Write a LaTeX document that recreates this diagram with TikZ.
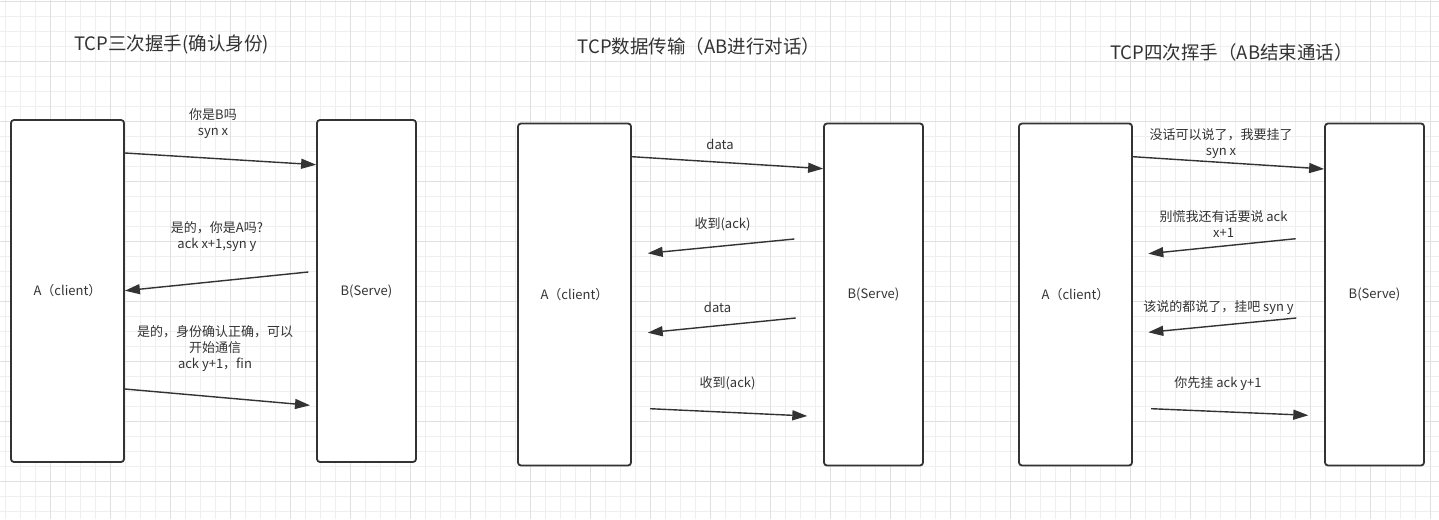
\documentclass[tikz,border=0pt]{standalone}
\usepackage{fontspec}
\setmainfont{Noto Sans CJK SC}
\usetikzlibrary{arrows.meta}
\definecolor{ink}{HTML}{333333}
\definecolor{gminor}{HTML}{EFEFEF}
\definecolor{gmajor}{HTML}{E0E0E0}
\begin{document}
\begin{tikzpicture}[x=1pt,y=-1pt,
  box/.style={draw=ink, line width=1.8pt, rounded corners=3pt, fill=white,
    minimum height=342pt, inner sep=0pt, text=ink, font=\fontsize{13}{15}\selectfont},
  msg/.style={draw=ink, line width=1.4pt, -{Triangle[length=15pt,width=10pt]}},
  lbl/.style={text=ink, align=center, inner sep=0pt, font=\fontsize{13}{16}\selectfont},
  ttl/.style={text=ink, inner sep=0pt, font=\fontsize{18.5}{21}\selectfont},
  gmin/.style={draw=gminor, line width=0.8pt},
  gmaj/.style={draw=gmajor, line width=0.9pt}]
\useasboundingbox (0,0) rectangle (1439,519);
\fill[white] (0,0) rectangle (1439,519);
% grid
\foreach \x in {5,20,...,1439} \draw[gmin] (\x,0) -- (\x,519);
\foreach \y in {1.7,16.7,...,519} \draw[gmin] (0,\y) -- (1439,\y);
\foreach \x in {50,110,...,1439} \draw[gmaj] (\x,0) -- (\x,519);
\foreach \y in {1.7,61.7,...,519} \draw[gmaj] (0,\y) -- (1439,\y);

% titles
\node[ttl] (t1) at (171.5,45) {TCP三次握手(确认身份)};
\node[ttl] (t2) at (699,46) {TCP数据传输（AB进行对话）};
\node[ttl] (t3) at (1231.5,52) {TCP四次挥手（AB结束通话）};

% panel 1
\node[box, minimum width=113pt] (a1) at (67.5,291) {A（client）};
\node[box, minimum width=99pt] (b1) at (366.5,291) {B(Serve)};
\node[lbl] (l11) at (213,124) {你是B吗\\syn x};
\node[lbl] (l12) at (217,237) {是的，你是A吗?\\ ack x+1,syn y};
\node[lbl] (l13) at (215,349) {是的，身份确认正确，可以\\开始通信\\ack y+1，fin};
\coordinate (c12) at (308.3,272);
\coordinate (c13) at (310,405.3);
\draw[msg] (a1.east |- 0,153) -- (b1.west |- 0,164.7);
\draw[msg] (c12) -- (a1.east |- 0,290.7);
\draw[msg] (a1.east |- 0,389) -- (c13);

% panel 2
\node[box, minimum width=113pt] (a2) at (574.5,294.5) {A（client）};
\node[box, minimum width=99pt] (b2) at (873.5,294.5) {B(Serve)};
\node[lbl] (l21) at (720,144) {data};
\node[lbl] (l22) at (722.5,224) {收到(ack)};
\node[lbl] (l23) at (717.5,307) {data};
\node[lbl] (l24) at (727.5,383) {收到(ack)};
\coordinate (s22) at (794.3,239);
\coordinate (e22) at (647.7,253.3);
\coordinate (s23) at (795.7,318);
\coordinate (e23) at (647.7,332.7);
\coordinate (s24) at (650,408.7);
\coordinate (e24) at (807.3,416);
\draw[msg] (a2.east |- 0,156.7) -- (b2.west |- 0,168.7);
\draw[msg] (s22) -- (e22);
\draw[msg] (s23) -- (e23);
\draw[msg] (s24) -- (e24);

% panel 3
\node[box, minimum width=113pt] (a3) at (1075.5,294.5) {A（client）};
\node[box, minimum width=99pt] (b3) at (1374.5,294.5) {B(Serve)};
\node[lbl] (l31) at (1221,144) {没话可以说了，我要挂了\\syn x};
\node[lbl] (l32) at (1223.5,224) {别慌我还有话要说 ack\\x+1};
\node[lbl] (l33) at (1218.5,307.3) {该说的都说了，挂吧 syn y};
\node[lbl] (l34) at (1218,383.3) {你先挂 ack y+1};
\coordinate (s32) at (1295.7,238.7);
\coordinate (e32) at (1148.3,253.7);
\coordinate (s33) at (1296.3,318);
\coordinate (e33) at (1148.3,332.3);
\coordinate (s34) at (1151,408.7);
\coordinate (e34) at (1308.3,415.3);
\draw[msg] (a3.east |- 0,156.7) -- (b3.west |- 0,169);
\draw[msg] (s32) -- (e32);
\draw[msg] (s33) -- (e33);
\draw[msg] (s34) -- (e34);
\end{tikzpicture}
\end{document}
